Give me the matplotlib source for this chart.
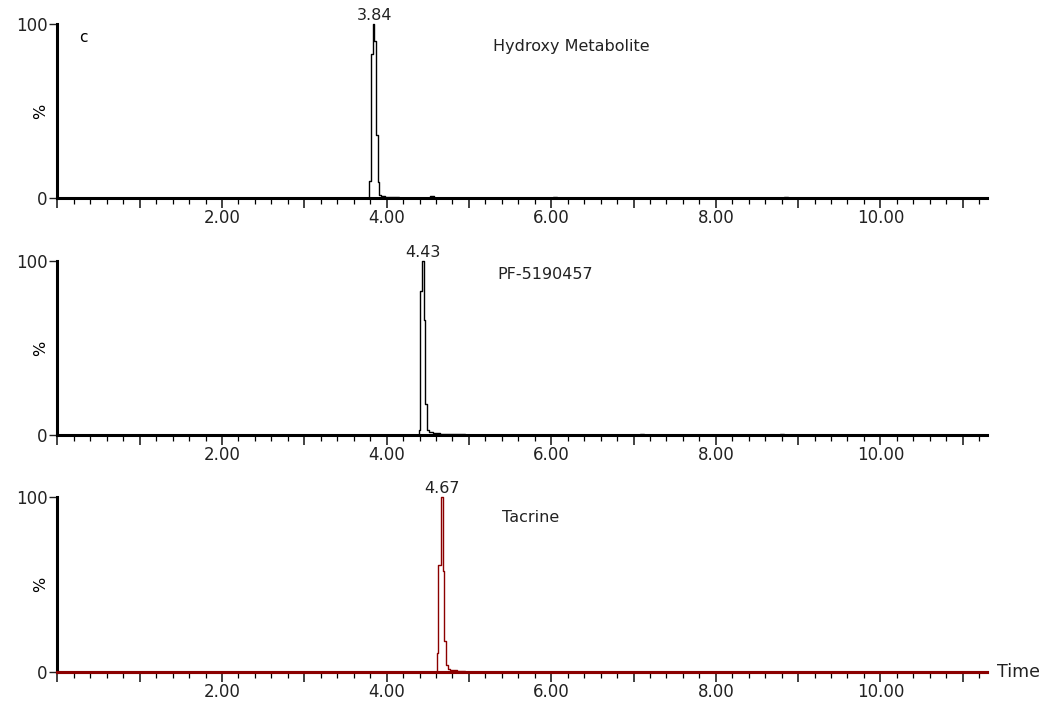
import numpy as np
import matplotlib.pyplot as plt
from matplotlib.ticker import MultipleLocator, FixedLocator, FuncFormatter

plt.rcParams['font.family'] = ['DejaVu Sans']

# chromatogram traces (time in min, intensity in %)
t1 = [0.00, 3.78, 3.80, 3.82, 3.84, 3.86, 3.88, 3.90, 3.92, 3.95, 4.00, 4.10, 4.20, 4.50, 4.55, 4.60, 6.00, 6.05, 6.10, 8.80, 8.85, 8.90, 11.30]
y1 = [0.0, 0.0, 10.0, 83.0, 100.0, 90.0, 36.0, 9.0, 2.0, 1.0, 0.5, 0.4, 0.0, 0.0, 1.0, 0.0, 0.0, 0.6, 0.0, 0.0, 0.5, 0.0, 0.0]

t2 = [0.00, 4.38, 4.40, 4.42, 4.44, 4.46, 4.48, 4.50, 4.53, 4.60, 4.70, 4.80, 4.90, 5.00, 7.05, 7.10, 7.15, 8.75, 8.80, 8.85, 11.30]
y2 = [0.0, 0.0, 3.0, 83.0, 100.0, 66.0, 18.0, 3.0, 2.0, 1.0, 0.8, 0.6, 0.4, 0.0, 0.0, 0.6, 0.0, 0.0, 0.6, 0.0, 0.0]

t3 = [0.00, 4.60, 4.62, 4.64, 4.67, 4.69, 4.71, 4.73, 4.75, 4.80, 4.90, 5.00, 11.30]
y3 = [0.0, 0.0, 11.0, 61.0, 100.0, 58.0, 18.0, 4.0, 1.5, 1.0, 0.6, 0.0, 0.0]

peak_labels = ['3.84', '4.43', '4.67']
peak_times = [3.85, 4.44, 4.67]
names = ['Hydroxy Metabolite', 'PF-5190457', 'Tacrine']
name_pos = [(5.29, 87), (5.34, 92), (5.40, 88)]
colors = ['black', 'black', '#8b0000']

fig = plt.figure(figsize=(10.44, 7.05), dpi=100)
W, H = 1044.0, 705.0
tops = [24, 261, 497]
bottoms = [198, 435, 672]
left, right = 57.4, 987

traces = [(t1, y1), (t2, y2), (t3, y3)]
for i in range(3):
    ax = fig.add_axes([left / W, 1 - bottoms[i] / H, (right - left) / W, (bottoms[i] - tops[i]) / H])
    t, y = traces[i]
    ax.plot(t, y, color=colors[i], lw=1.0, drawstyle='steps-mid', clip_on=False, zorder=3)
    if i == 2:
        ax.axhline(0, color=colors[i], lw=2.2, zorder=4, clip_on=False)
    ax.set_xlim(0, (right - left) / 82.3)
    ax.set_ylim(0, 100)
    for s in ['top', 'right']:
        ax.spines[s].set_visible(False)
    ax.spines['left'].set_linewidth(2.2)
    ax.spines['bottom'].set_linewidth(2.2)
    ax.xaxis.set_major_locator(MultipleLocator(1.0))
    ax.xaxis.set_minor_locator(MultipleLocator(0.2))
    ax.xaxis.set_major_formatter(FuncFormatter(lambda v, p: '%.2f' % v if (round(v) % 2 == 0 and v > 0.5) else ''))
    ax.yaxis.set_major_locator(FixedLocator([0, 100]))
    ax.tick_params(axis='x', which='major', length=7, width=1.2, direction='out', labelsize=12, pad=1, colors='#222222')
    ax.tick_params(axis='x', which='minor', length=4, width=0.9, direction='out')
    ax.tick_params(axis='y', which='major', length=6, width=1.0, direction='out', labelsize=12, pad=1, colors='#222222')
    ax.text(-0.2, 50, '%', rotation=90, ha='center', va='center', fontsize=11.5, transform=ax.transData)
    ax.annotate(peak_labels[i], (peak_times[i], 100), xytext=(0, 1), textcoords='offset points',
                ha='center', va='bottom', fontsize=11.5, color='#222222')
    ax.text(name_pos[i][0], name_pos[i][1], names[i], fontsize=11.5, ha='left', va='center', color='#222222')
    if i == 0:
        ax.text(0.27, 92, 'c', fontsize=11, ha='left', va='center')
    if i == 2:
        ax.text(11.42, 0, 'Time', fontsize=12.5, ha='left', va='center', color='#222222')

fig.savefig('out.png', dpi=100)
